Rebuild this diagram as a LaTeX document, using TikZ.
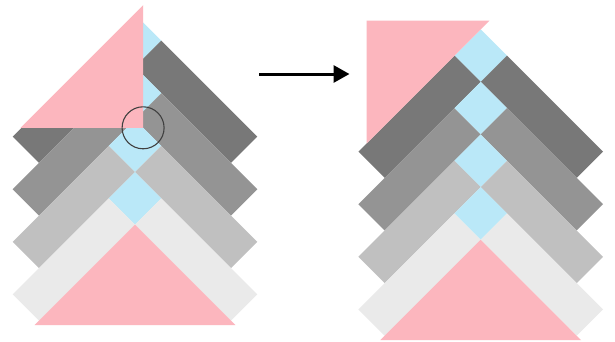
\documentclass[tikz,border=0pt]{standalone}
\usetikzlibrary{arrows.meta}
\definecolor{pinkT}{RGB}{252,182,190}
\definecolor{blueD}{RGB}{186,232,248}
\definecolor{gA}{RGB}{120,120,120}
\definecolor{gB}{RGB}{148,148,148}
\definecolor{gC}{RGB}{192,192,192}
\definecolor{gD}{RGB}{234,234,234}
\def\hh{26.3}
\def\LL{96}
\newcommand\chevset[1]{%
  \foreach \k/\col in {0/gA,1/gB,2/gC,3/gD}{%
    \pgfmathsetmacro\a{2*\hh*\k}%
    \fill[blueD] (0,\a) -- (\hh,\hh+\a) -- (0,2*\hh+\a) -- (-\hh,\hh+\a) -- cycle;
    \fill[\col] (-\hh,\hh+\a) -- (0,2*\hh+\a) -- (-\LL,2*\hh+\a+\LL) -- (-\hh-\LL,\hh+\a+\LL) -- cycle;
    \fill[\col] (\hh,\hh+\a) -- (0,2*\hh+\a) -- (\LL,2*\hh+\a+\LL) -- (\hh+\LL,\hh+\a+\LL) -- cycle;
  }%
  \pgfmathsetmacro\bw{#1-8*\hh}%
  \fill[pinkT] (0,8*\hh) -- (\bw,#1) -- (-\bw,#1) -- cycle;
}
\begin{document}
\begin{tikzpicture}[x=1pt,y=-1pt]
\useasboundingbox (0,0) rectangle (615,341);
\fill[white] (0,0) rectangle (615,341);
% left figure
\begin{scope}[shift={(135,14.3)}]
  \chevset{310.7}
  \fill[pinkT] (8.1,-9.1) -- (8.1,113.5) -- (-114.5,113.5) -- cycle;
  \coordinate (corner) at (8.1,113.5);
\end{scope}
\draw[black!75, line width=1.1pt] (corner) circle[radius=21];
% arrow
\coordinate (arrS) at (259,74);
\coordinate (arrE) at (349.5,74);
\draw[line width=3pt, -{Triangle[length=16pt,width=17pt]}] (arrS) -- (arrE);
% right figure
\begin{scope}[shift={(480.7,29.3)}]
  \chevset{310.7}
  \fill[pinkT] (-114,-8.6) -- (8.6,-8.6) -- (-114,114) -- cycle;
\end{scope}
\end{tikzpicture}
\end{document}
